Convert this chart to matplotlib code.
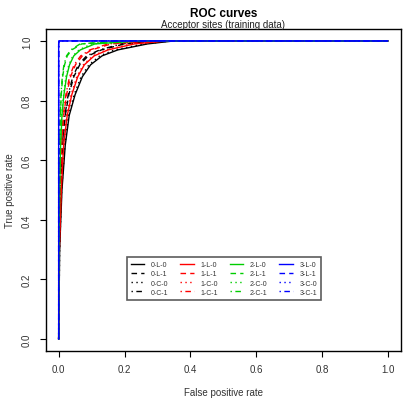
import matplotlib
matplotlib.use("Agg")
import matplotlib.pyplot as plt

plt.rcParams['font.family'] = ['Liberation Sans', 'DejaVu Sans']

# Shared TPR levels; per-curve FPR values
tpr_levels = [0.0, 0.3, 0.5, 0.65, 0.75, 0.82, 0.88, 0.92, 0.95, 0.97, 0.99, 1.0, 1.0]

fpr_0L0 = [0, 0.003, 0.010, 0.020, 0.032, 0.050, 0.072, 0.097, 0.132, 0.18, 0.27, 0.35, 1.0]
fpr_0L1 = [0, 0.002, 0.006, 0.012, 0.020, 0.031, 0.046, 0.064, 0.090, 0.13, 0.20, 0.31, 1.0]
fpr_0C0 = [0, 0.003, 0.009, 0.019, 0.030, 0.047, 0.068, 0.092, 0.125, 0.17, 0.26, 0.34, 1.0]
fpr_0C1 = [0, 0.002, 0.006, 0.011, 0.019, 0.029, 0.043, 0.060, 0.085, 0.125, 0.19, 0.30, 1.0]

fpr_1L0 = [0, 0.002, 0.008, 0.015, 0.026, 0.040, 0.058, 0.078, 0.108, 0.15, 0.23, 0.33, 1.0]
fpr_1L1 = [0, 0.001, 0.004, 0.009, 0.015, 0.024, 0.036, 0.051, 0.072, 0.10, 0.16, 0.28, 1.0]
fpr_1C0 = [0, 0.002, 0.007, 0.014, 0.024, 0.038, 0.055, 0.075, 0.104, 0.145, 0.22, 0.32, 1.0]
fpr_1C1 = [0, 0.001, 0.004, 0.008, 0.014, 0.022, 0.033, 0.047, 0.067, 0.095, 0.15, 0.27, 1.0]

fpr_2L0 = [0, 0.001, 0.003, 0.006, 0.010, 0.016, 0.024, 0.033, 0.046, 0.066, 0.11, 0.25, 1.0]
fpr_2L1 = [0, 0.0005, 0.001, 0.003, 0.005, 0.008, 0.012, 0.018, 0.026, 0.040, 0.07, 0.20, 1.0]
fpr_2C0 = [0, 0.001, 0.003, 0.005, 0.009, 0.015, 0.022, 0.031, 0.043, 0.062, 0.10, 0.24, 1.0]
fpr_2C1 = [0, 0.0005, 0.001, 0.003, 0.005, 0.007, 0.011, 0.016, 0.024, 0.037, 0.065, 0.19, 1.0]

fpr_3L0 = [0, 0, 0, 0, 0, 0, 0, 0, 0, 0, 0, 0.001, 1.0]
fpr_3L1 = [0, 0, 0, 0, 0, 0, 0, 0, 0, 0, 0, 0.001, 1.0]
fpr_3C0 = [0, 0, 0, 0, 0, 0, 0, 0, 0, 0, 0, 0.001, 1.0]
fpr_3C1 = [0, 0, 0, 0, 0, 0, 0, 0, 0, 0, 0, 0.001, 1.0]

labels = ['0-L-0', '0-L-1', '0-C-0', '0-C-1',
          '1-L-0', '1-L-1', '1-C-0', '1-C-1',
          '2-L-0', '2-L-1', '2-C-0', '2-C-1',
          '3-L-0', '3-L-1', '3-C-0', '3-C-1']
fprs = [fpr_0L0, fpr_0L1, fpr_0C0, fpr_0C1,
        fpr_1L0, fpr_1L1, fpr_1C0, fpr_1C1,
        fpr_2L0, fpr_2L1, fpr_2C0, fpr_2C1,
        fpr_3L0, fpr_3L1, fpr_3C0, fpr_3C1]
tick_labels = ['0.0', '0.2', '0.4', '0.6', '0.8', '1.0']
colors = ['black', '#FF0000', '#00CD00', '#0000FF']
styles = ['-', (0, (4, 3)), (0, (1, 2.5)), (0, (1, 2.5, 4, 2.5))]

W, H = 408, 406
fig = plt.figure(figsize=(W / 100, H / 100), dpi=100)
L, R, T, B = 45.5, 401, 30, 352
ax = fig.add_axes([L / W, 1 - B / H, (R - L) / W, (B - T) / H])

for i, (lab, f) in enumerate(zip(labels, fprs)):
    ax.plot(f, tpr_levels, color=colors[i // 4], linestyle=styles[i % 4],
            linewidth=1.0, label=lab)

ax.set_xlim(-0.04, 1.04)
ax.set_ylim(-0.04, 1.04)
ticks = [0.0, 0.2, 0.4, 0.6, 0.8, 1.0]
ax.set_xticks(ticks)
ax.set_yticks(ticks)
ax.set_xticklabels(tick_labels, fontsize=7, color='#333333')
ax.set_yticklabels(tick_labels, fontsize=7, rotation=90, va='center', color='#333333')
ax.tick_params(length=4.3, width=0.8)
ax.tick_params(axis='x', pad=5)
ax.tick_params(axis='y', pad=5.5)
for s in ax.spines.values():
    s.set_linewidth(1.0)

cx = 0.5 * (L + R) / W
fig.text(cx, 1 - 393 / H, 'False positive rate', ha='center', va='center',
         fontsize=7, color='#333333')
fig.text(10 / W, 1 - 191 / H, 'True positive rate', ha='center', va='center',
         fontsize=7, color='#333333', rotation=90)
fig.text(cx, 1 - 14 / H, 'ROC curves', ha='center', va='center',
         fontsize=8.5, fontweight='bold')
fig.text(cx, 1 - 25 / H, 'Acceptor sites (training data)',
         ha='center', va='center', fontsize=7, color='#222222')

leg = ax.legend(ncol=4, loc='center', bbox_to_anchor=(224 / W, 1 - 279.5 / H),
                bbox_transform=fig.transFigure, fontsize=5, handlelength=1.9,
                handletextpad=1.0, columnspacing=1.7, labelspacing=0.3,
                fancybox=False, frameon=True, borderpad=0.6, borderaxespad=0)
leg.get_frame().set_edgecolor('#333333')
leg.get_frame().set_linewidth(1.2)
for t in leg.get_texts():
    t.set_color('#333333')

fig.savefig('out.png', dpi=100)
